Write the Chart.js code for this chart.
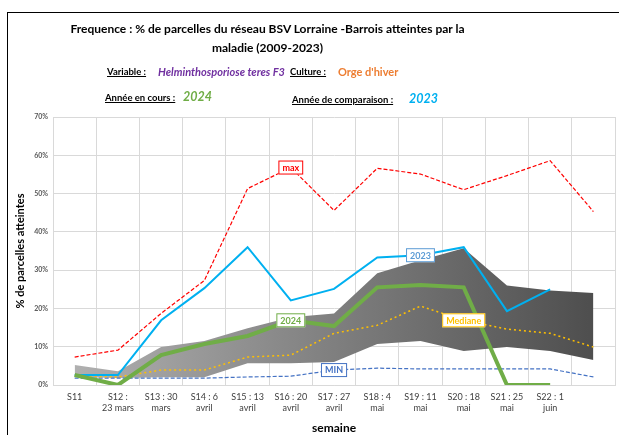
<!DOCTYPE html>
<html>
<head>
<meta charset="utf-8">
<script src="https://cdn.jsdelivr.net/npm/chart.js@4.4.0/dist/chart.umd.min.js"></script>
<style>
  body { margin: 0; background: #fff; font-family: Lato, "Open Sans", sans-serif; }
  #wrap { position: relative; width: 619px; height: 435px; overflow: hidden; }
  #frame { position: absolute; left: 7px; top: 12px; width: 700px; height: 500px; border: 1.5px solid #000; }
  #chart { position: absolute; left: 0; top: 0; }
  .t { position: absolute; white-space: nowrap; font-weight: bold; color: #000; }
  .u { text-decoration: underline; font-size: 9.5px; }
</style>
</head>
<body>
<div id="wrap">
  <div id="frame"></div>
  <canvas id="chart" width="619" height="435"></canvas>
  <div class="t" style="left:0;width:535px;top:19px;text-align:center;font-size:12px;line-height:19px;">
    Frequence : % de parcelles du réseau BSV Lorraine -Barrois atteintes par la<br>maladie (2009-2023)
  </div>
  <div class="t u" style="left:107px;top:66px;">Variable :</div>
  <div class="t" style="left:158px;top:65px;font-size:11px;font-style:italic;color:#7030a0;">Helminthosporiose teres F3</div>
  <div class="t u" style="left:290px;top:66px;">Culture :</div>
  <div class="t" style="left:338px;top:65px;font-size:11px;color:#ed7d31;">Orge d'hiver</div>
  <div class="t u" style="left:105px;top:92px;">Année en cours :</div>
  <div class="t" style="left:183px;top:89px;font-size:12.5px;font-style:italic;color:#70ad47;">2024</div>
  <div class="t u" style="left:292px;top:94px;">Année de comparaison :</div>
  <div class="t" style="left:409px;top:91px;font-size:12.5px;font-style:italic;color:#00b0f0;">2023</div>
</div>
<script>
// semaines
var labels = ['S11', ['S12 :', '23 mars'], ['S13 : 30', 'mars'], ['S14 : 6', 'avril'], ['S15 : 13', 'avril'],
  ['S16 : 20', 'avril'], ['S17 : 27', 'avril'], ['S18 : 4', 'mai'], ['S19 : 11', 'mai'], ['S20 : 18', 'mai'],
  ['S21 : 25', 'mai'], ['S22 : 1', 'juin'], ''];

// % de parcelles atteintes
var annee2024 = [2.6, 0, 7.8, 10.7, 12.8, 16.9, 15.4, 25.5, 26.1, 25.5, 0, 0, null];
var annee2023 = [2.6, 2.6, 16.9, 25.3, 36, 22.1, 25.1, 33.3, 33.9, 36, 19.3, 25, null];
var mediane = [2.3, 2.1, 3.9, 3.9, 7.3, 7.8, 13.5, 15.6, 20.6, 16.9, 14.6, 13.5, 9.9];
var maxi = [7.3, 9.1, 18.7, 27.3, 51.3, 56.8, 45.6, 56.6, 55.1, 51, 54.7, 58.6, 45.3];
var mini = [1.8, 1.8, 1.8, 1.8, 2.1, 2.3, 3.9, 4.4, 4.2, 4.2, 4.2, 4.2, 2.1];
var bandeHaut = [5.2, 3.6, 9.9, 11.5, 14.8, 17.7, 18.7, 29.2, 32.6, 35.7, 26, 24.7, 24];
var bandeBas = [2.1, 1.8, 2, 2, 5.7, 5.7, 6, 10.7, 11.5, 8.9, 9.9, 8.9, 6.5];
var yTicks = [0, 10, 20, 30, 40, 50, 60, 70];

// etiquettes posees sur les courbes : dataset, point, texte, couleur
var etiquettes = [
  [3, 5, 'max', '#ff0000'],
  [0, 5, '2024', '#70ad47'],
  [1, 8, '2023', '#5b9bd5'],
  [2, 9, 'Mediane', '#ffc000'],
  [4, 6, 'MIN', '#4472c4']
];

var etiquettePlugin = {
  id: 'etiquettes',
  afterDatasetsDraw: function(chart) {
    var c = chart.ctx;
    etiquettes.forEach(function(e) {
      var pt = chart.getDatasetMeta(e[0]).data[e[1]];
      c.save();
      c.font = 'bold 9px Lato';
      var w = c.measureText(e[2]).width + 8, h = 14;
      c.fillStyle = '#fff';
      c.fillRect(pt.x - w / 2, pt.y - h / 2, w, h);
      c.strokeStyle = e[3];
      c.lineWidth = 1;
      c.strokeRect(pt.x - w / 2 + 0.5, pt.y - h / 2 + 0.5, w - 1, h - 1);
      c.fillStyle = e[3];
      c.textAlign = 'center';
      c.textBaseline = 'middle';
      c.fillText(e[2], pt.x, pt.y + 0.5);
      c.restore();
    });
  }
};

function degrade(ctx) {
  var a = ctx.chart.chartArea;
  if (!a) return '#888';
  var g = ctx.chart.ctx.createLinearGradient(a.left, 0, a.right, 0);
  g.addColorStop(0, '#b4b4b4');
  g.addColorStop(1, '#4a4a4a');
  return g;
}

var ctx = document.getElementById('chart').getContext('2d');
window.myChart = new Chart(ctx, {
  type: 'line',
  data: {
    labels: labels,
    datasets: [
      { data: annee2024, borderColor: '#70ad47', borderWidth: 4, pointRadius: 0, spanGaps: false },
      { data: annee2023, borderColor: '#00b0f0', borderWidth: 2, pointRadius: 0, spanGaps: false },
      { data: mediane, borderColor: '#ffc000', borderWidth: 1.5, borderDash: [2, 3], pointRadius: 0 },
      { data: maxi, borderColor: '#ff0000', borderWidth: 1.2, borderDash: [4, 2], pointRadius: 0 },
      { data: mini, borderColor: '#4472c4', borderWidth: 1.2, borderDash: [4, 2], pointRadius: 0 },
      { data: bandeHaut, borderWidth: 0, borderColor: 'rgba(0,0,0,0)', pointRadius: 0, fill: 6, backgroundColor: degrade },
      { data: bandeBas, borderWidth: 0, borderColor: 'rgba(0,0,0,0)', pointRadius: 0 }
    ]
  },
  options: {
    responsive: false,
    animation: false,
    layout: { padding: { top: 117, left: 14, right: 4, bottom: 0 } },
    plugins: { legend: { display: false }, tooltip: { enabled: false } },
    scales: {
      x: {
        offset: true,
        grid: { offset: true, color: '#d9d9d9', drawTicks: false },
        border: { color: '#d9d9d9' },
        ticks: { autoSkip: false, maxRotation: 0, padding: 7, color: '#404040', font: { family: 'Lato', size: 9 } },
        title: { display: true, text: 'semaine', color: '#000', font: { family: 'Lato', size: 12, weight: 'bold' }, padding: { top: 0, bottom: 0 } }
      },
      y: {
        min: 0, max: 70,
        afterBuildTicks: function(axis) { axis.ticks = yTicks.map(function(v) { return { value: v }; }); },
        grid: { color: '#d9d9d9', drawTicks: false },
        border: { color: '#d9d9d9' },
        ticks: { padding: 5, color: '#595959', font: { family: 'Lato', size: 7, weight: 'bold' }, callback: function(v) { return v + '%'; } },
        title: { display: true, text: '% de parcelles atteintes', color: '#000', font: { family: 'Lato', size: 11, weight: 'bold' }, padding: { top: 0, bottom: 2 } }
      }
    }
  },
  plugins: [etiquettePlugin]
});
</script>
</body>
</html>
